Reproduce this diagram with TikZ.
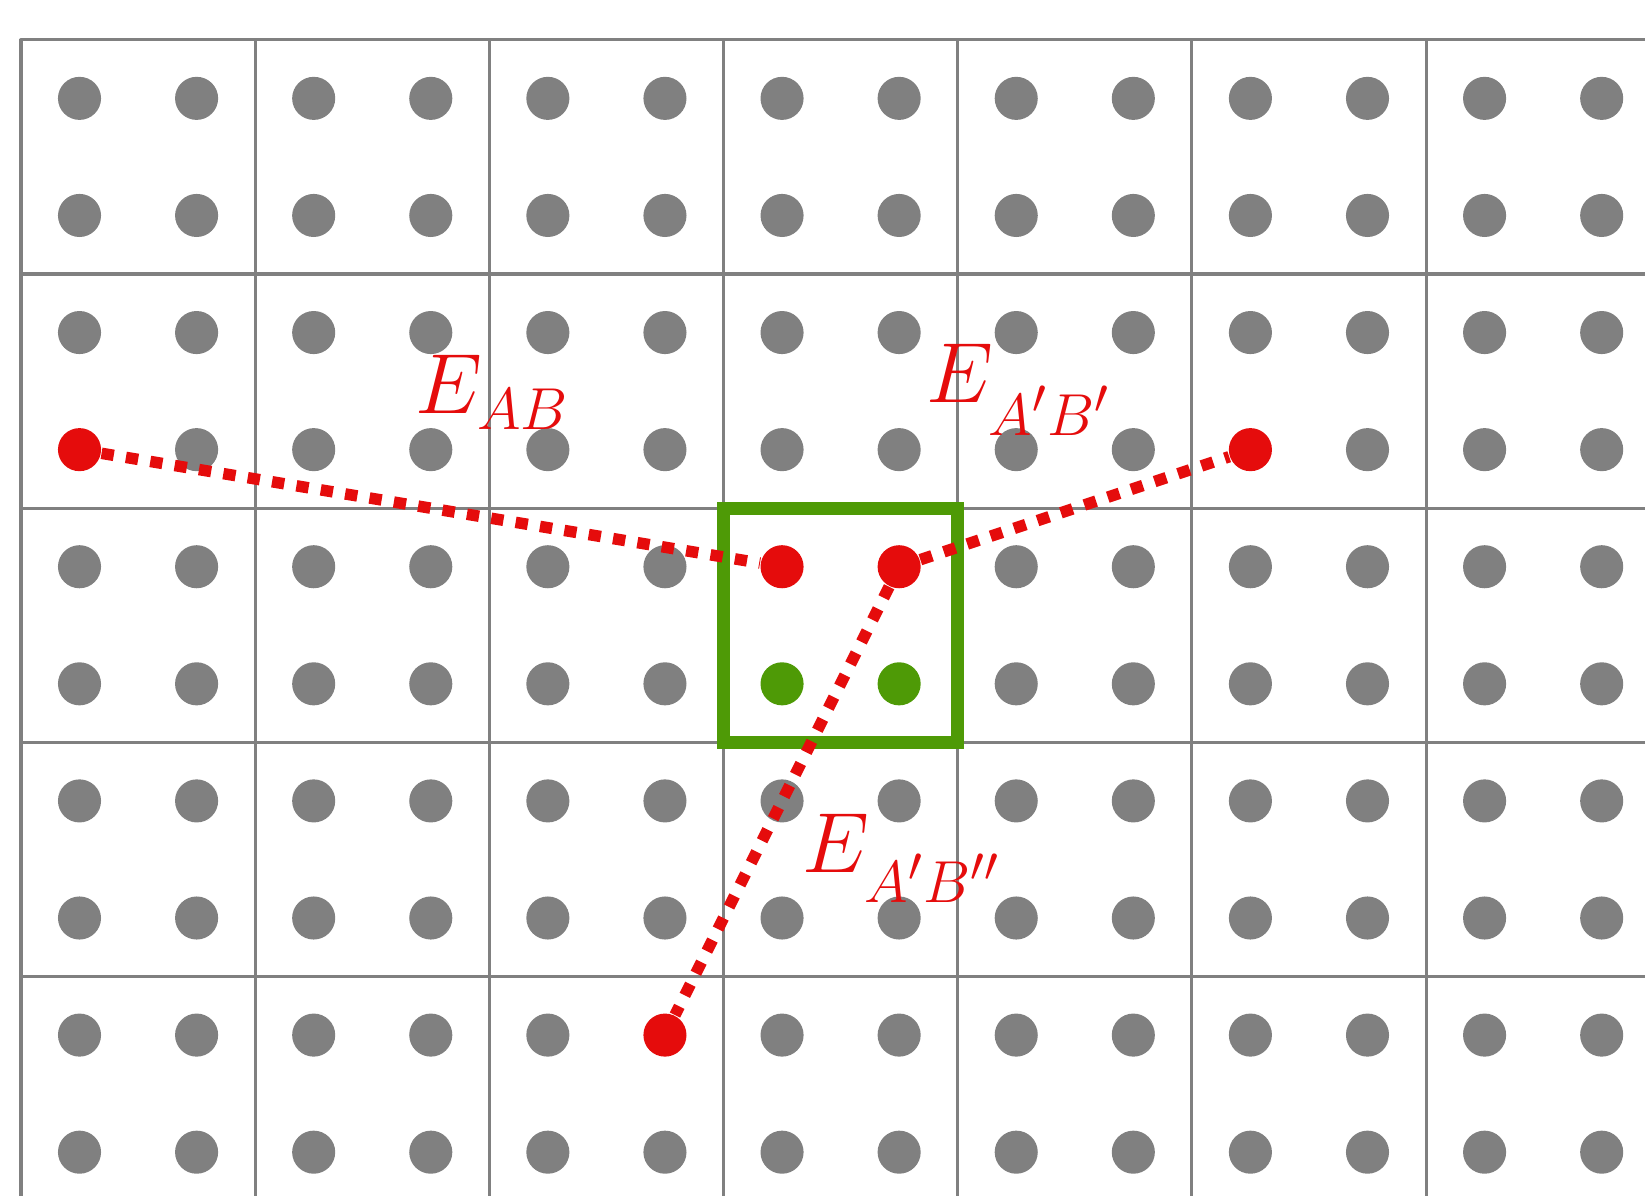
\documentclass[tikz,border=0pt]{standalone}
\definecolor{dotgray}{RGB}{128,128,128}
\definecolor{myred}{RGB}{229,12,12}
\definecolor{mygreen}{RGB}{78,154,6}
\tikzset{
  pt/.style={circle,inner sep=0pt,minimum size=0.368cm,fill=#1},
  gridline/.style={dotgray,line width=0.75pt,line join=round},
  link/.style={myred,line width=2.8pt,dash pattern=on 3pt off 3pt},
  lbl/.style={text=myred,inner sep=0pt,anchor=base west,font=\huge}
}
\newcommand{\lowsub}[2]{\lower#1\hbox{$\scriptstyle #2$}}
\begin{document}
\begin{tikzpicture}
\useasboundingbox (-0.179,0.34) rectangle (13.87,-9.87);
\clip (-0.179,0.34) rectangle (13.87,-9.87);
% grid
\draw[gridline] (0,-10.3) -- (0,0) -- (14.3,0);
\foreach \x in {2,4,...,12} \draw[gridline] (\x,0) -- (\x,-10.3);
\foreach \y in {-2,-4,...,-8} \draw[gridline] (0,\y) -- (14.3,\y);
% gray dots
\foreach \i in {0,...,13} {
  \foreach \j in {0,...,9} {
    \pgfmathtruncatemacro{\isspec}{((\i==0)&&(\j==3))||((\i==6)&&((\j==4)||(\j==5)))||((\i==7)&&((\j==4)||(\j==5)))||((\i==10)&&(\j==3))||((\i==5)&&(\j==8))}
    \ifnum\isspec=0 \node[pt=dotgray] (g-\i-\j) at (\i+0.5,-\j-0.5) {};\fi
  }
}
% green box
\node[draw=mygreen,line width=3.2pt,minimum size=2cm,inner sep=0pt] (box) at (7,-5) {};
% coloured dots
\node[pt=myred] (a) at (0.5,-3.5) {};
\node[pt=myred] (b) at (6.5,-4.5) {};
\node[pt=myred] (c) at (7.5,-4.5) {};
\node[pt=myred] (d) at (10.5,-3.5) {};
\node[pt=myred] (e) at (5.5,-8.5) {};
\node[pt=mygreen] (f) at (6.5,-5.5) {};
\node[pt=mygreen] (h) at (7.5,-5.5) {};
% links
\draw[link] (a) -- (b);
\draw[link] (c) -- (d);
\draw[link] (c) -- (e);
% labels
\node[lbl] (l1) at (3.36,-3.19) {$E_{\lowsub{0.8pt}{AB}}$};
\node[lbl] (l2) at (7.73,-3.10) {$E_{\lowsub{4.8pt}{A'B'}}$};
\node[lbl] (l3) at (6.67,-7.11) {$E_{\lowsub{4.3pt}{A'B''}}$};
\end{tikzpicture}
\end{document}
